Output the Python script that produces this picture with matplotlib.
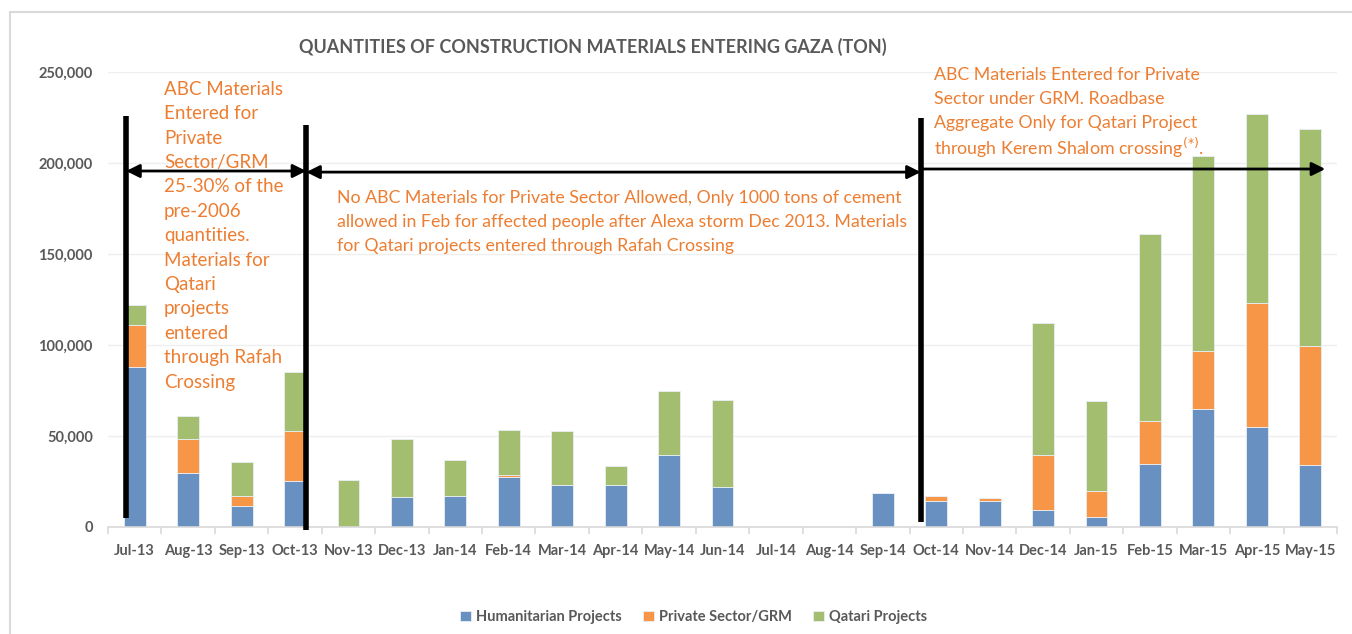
import numpy as np
import matplotlib
matplotlib.use("Agg")
import matplotlib.pyplot as plt
from matplotlib.ticker import FuncFormatter, FixedLocator

plt.rcParams['font.family'] = ['Lato', 'DejaVu Sans']

# data (tons)
months = ['Jul-13', 'Aug-13', 'Sep-13', 'Oct-13', 'Nov-13', 'Dec-13', 'Jan-14',
          'Feb-14', 'Mar-14', 'Apr-14', 'May-14', 'Jun-14', 'Jul-14', 'Aug-14',
          'Sep-14', 'Oct-14', 'Nov-14', 'Dec-14', 'Jan-15', 'Feb-15', 'Mar-15',
          'Apr-15', 'May-15']
humanitarian = [88000, 29700, 11500, 25300, 0, 16500, 17000, 27500, 23000, 23000,
                39500, 22000, 0, 0, 18700, 14300, 14300, 9300, 5500, 34800, 64800,
                54900, 34000]
private_grm = [23000, 18700, 5500, 27400, 0, 0, 0, 1100, 0, 0, 0, 0, 0, 0, 0,
               2700, 1600, 30200, 14300, 23400, 32100, 68000, 65500]
qatari = [11000, 12600, 18700, 32500, 25800, 31900, 19800, 24700, 29700, 10500,
          35200, 47800, 0, 0, 0, 0, 0, 72500, 49400, 102800, 107100, 104100, 119000]

series_names = ['Humanitarian Projects', 'Private Sector/GRM', 'Qatari Projects']
colors = ['#6890C0', '#F79646', '#A3BE6E']

orange_txt = '#ED7D31'
gray_txt = '#595959'

fig = plt.figure(figsize=(13.52, 6.34), dpi=100)
ax = fig.add_axes([108 / 1352, 1 - 527 / 634, 1229 / 1352, 455 / 634])

# outer chart frame
fig.patches.append(plt.Rectangle((10 / 1352, -0.05), 1.1, 1 - 12 / 634 + 0.05,
                                 transform=fig.transFigure, fill=False,
                                 edgecolor='#D9D9D9', lw=1.5))

x = np.arange(len(months))
bottom = np.zeros(len(months))
for vals, name, c in zip([humanitarian, private_grm, qatari], series_names, colors):
    vals = np.array(vals, dtype=float)
    ax.bar(x, vals, 0.41, bottom=bottom, color=c, edgecolor='#E8EEF5',
           linewidth=0.6, label=name, zorder=2)
    bottom += vals

ax.set_xlim(-0.5, len(months) - 0.5)
ax.set_ylim(0, 250000)
ax.set_yticks(np.arange(0, 250001, 50000))
ax.yaxis.set_major_formatter(FuncFormatter(lambda v, p: f'{int(v):,}'))
ax.grid(axis='y', color='#EFEFEF', lw=1, zorder=0)
ax.set_axisbelow(True)
for s in ['top', 'right', 'left']:
    ax.spines[s].set_visible(False)
ax.spines['bottom'].set_color('#D9D9D9')
ax.spines['bottom'].set_linewidth(1.2)

ax.set_xticks(x)
ax.set_xticklabels(months)
ax.xaxis.set_minor_locator(FixedLocator(np.arange(-0.5, len(months), 1)))
ax.tick_params(axis='x', which='major', length=0, pad=12)
ax.tick_params(axis='x', which='minor', length=5, color='#D9D9D9', width=1.2)
ax.tick_params(axis='y', length=0, pad=11)
for lab in ax.get_xticklabels() + ax.get_yticklabels():
    lab.set_fontweight('bold')
    lab.set_color(gray_txt)
    lab.set_fontsize(10.5)

# period separators and arrows
vlines = [(-0.16, 5000, 226000), (3.21, -1600, 221000), (14.71, 3000, 225000)]
for xv, y0, y1 in vlines:
    ax.plot([xv, xv], [y0, y1], color='black', lw=4, clip_on=False, zorder=5,
            solid_capstyle='butt')

arrows = [(-0.16, 3.21, 195600), (3.21, 14.71, 195000)]
for xa, xb, ya in arrows:
    ax.annotate('', xy=(xb, ya), xytext=(xa, ya),
                arrowprops=dict(arrowstyle='<|-|>', color='black', lw=2,
                                mutation_scale=20, shrinkA=0, shrinkB=0),
                zorder=6)
ax.annotate('', xy=(22.28, 196700), xytext=(14.71, 196700),
            arrowprops=dict(arrowstyle='-|>', color='black', lw=2,
                            mutation_scale=20, shrinkA=0, shrinkB=0),
            zorder=6)

txt1 = ['ABC Materials', 'Entered for', 'Private', 'Sector/GRM', '25-30% of the',
        'pre-2006', 'quantities.', 'Materials for', 'Qatari', 'projects', 'entered',
        'through Rafah', 'Crossing']
txt2 = ['No ABC Materials for Private Sector Allowed, Only 1000 tons of cement',
        'allowed in Feb for affected people after Alexa storm Dec 2013. Materials',
        'for Qatari projects entered through Rafah Crossing']
txt3 = ['ABC Materials Entered for Private', 'Sector under GRM. Roadbase',
        'Aggregate Only for Qatari Project',
        'through Kerem Shalom crossing$^{(*)}$.']


def text_block(xd, yd, lines, step_px, size):
    # one line per call so every line keeps the same pitch
    for i, line in enumerate(lines):
        ax.annotate(line, xy=(xd, yd), xycoords='data',
                    xytext=(0, -i * step_px * 0.72), textcoords='offset points',
                    color=orange_txt, fontsize=size, va='center_baseline', ha='left',
                    zorder=7, annotation_clip=False)


text_block(0.55, 241300, txt1, 24.4, 13.5)
text_block(3.78, 181800, txt2, 24, 12.8)
text_block(14.95, 249400, txt3, 24, 12.8)

fig.text(593 / 1352, 1 - 47 / 634, 'QUANTITIES OF CONSTRUCTION MATERIALS ENTERING GAZA (TON)',
         ha='center', va='center', fontsize=13, fontweight='bold', color=gray_txt)

leg = fig.legend(loc='center', bbox_to_anchor=(694 / 1352, 1 - 617 / 634), ncol=3,
                 frameon=False, handlelength=0.7, handleheight=0.7,
                 columnspacing=1.45, handletextpad=0.4,
                 prop={'weight': 'bold', 'size': 10.5})
for t in leg.get_texts():
    t.set_color(gray_txt)

fig.savefig('out.png', dpi=100)
